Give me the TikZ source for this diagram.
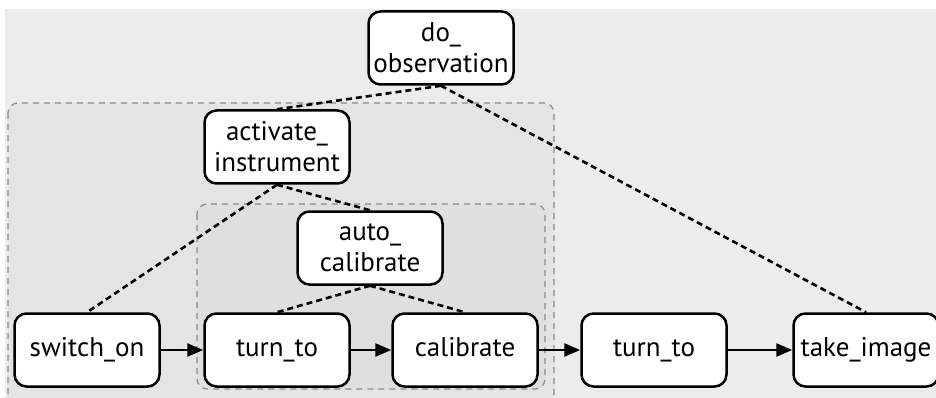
\documentclass[tikz,border=0pt]{standalone}
\usepackage{fontspec}
\setmainfont{PT Sans}
\usetikzlibrary{arrows.meta}
\definecolor{bggray}{HTML}{ECEDEB}
\definecolor{outergray}{HTML}{E3E5E2}
\definecolor{innergray}{HTML}{DEE0DD}
\definecolor{boxline}{HTML}{8A8A8A}
\begin{document}
\begin{tikzpicture}[x=1pt,y=-1pt,
  every node/.style={font=\fontsize{27}{31}\selectfont},
  task/.style={draw,line width=2.5pt,fill=white,rounded corners=12pt,minimum width=145pt,minimum height=73pt,align=center,inner sep=2pt},
  single/.style={task,text height=19pt,text depth=6pt},
  link/.style={line width=2.6pt,dash pattern=on 6pt off 4pt},
  flow/.style={line width=2.5pt,-{Triangle[length=16pt,width=13pt]}},
  group/.style={draw=boxline,line width=1.2pt,dash pattern=on 6pt off 5pt,rounded corners=10pt}]
\useasboundingbox (0,0) rectangle (936,398);
\clip (0,0) rectangle (936,398);
% Background and groups
\fill[bggray] (5,9) rectangle (940,402);
\filldraw[group,fill=outergray] (8,103) rectangle (554,420);
\filldraw[group,fill=innergray] (197,204) rectangle (545,389);
% Tasks
\node[task] (obs) at (441,48) {do\_\\observation};
\node[task] (act) at (277,147) {activate\_\\instrument};
\node[task] (auto) at (370,248) {auto\_\\calibrate};
\node[single] (on) at (87,350) {switch\_on};
\node[single] (turn1) at (277,350) {turn\_to};
\node[single] (cal) at (465,350) {calibrate};
\node[single] (turn2) at (654,350) {turn\_to};
\node[single] (img) at (866,350) {take\_image};
% Decomposition
\draw[link] (obs.south) -- (act.north);
\draw[link] (obs.south) -- (img.north);
\draw[link] (act.south) -- (on.north);
\draw[link] (act.south) -- (auto.north);
\draw[link] (auto.south) -- (turn1.north);
\draw[link] (auto.south) -- (cal.north);
% Order
\draw[flow] (on) -- (turn1);
\draw[flow] (turn1) -- (cal);
\draw[flow] (cal) -- (turn2);
\draw[flow] (turn2) -- (img);
\end{tikzpicture}
\end{document}
